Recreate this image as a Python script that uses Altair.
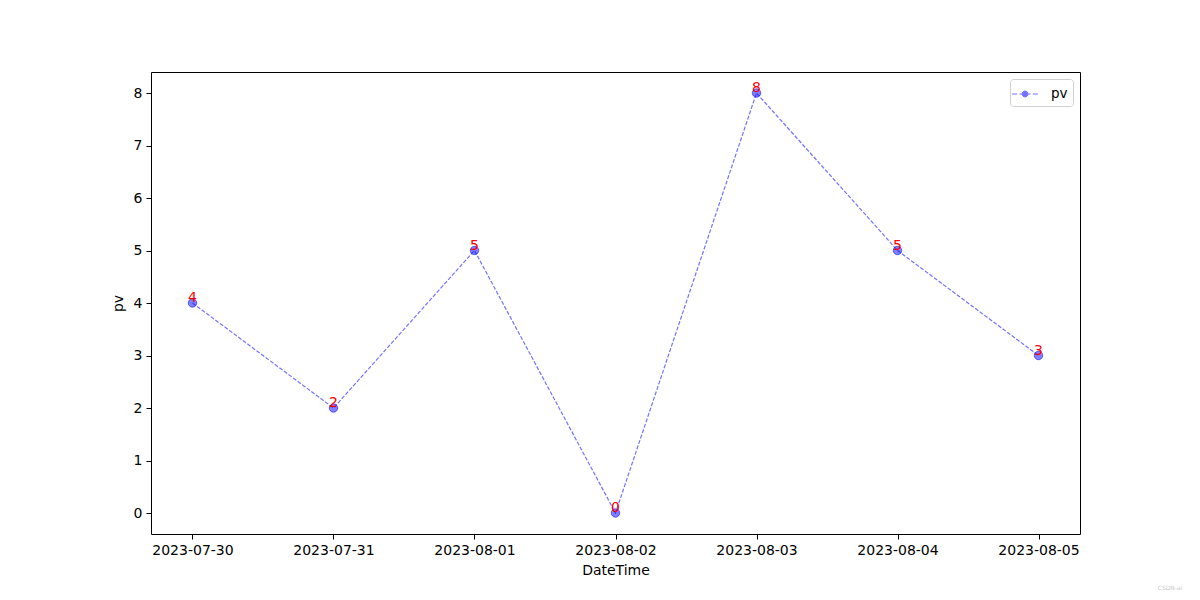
import altair as alt
import pandas as pd

dates = ["2023-07-30", "2023-07-31", "2023-08-01", "2023-08-02",
         "2023-08-03", "2023-08-04", "2023-08-05"]
pv = [4, 2, 5, 0, 8, 5, 3]
series = ["pv"] * len(dates)

df = pd.DataFrame({"DateTime": dates, "pv": pv, "series": series})

FONT = "DejaVu Sans"
W, H = 929, 462

x = alt.X("DateTime:O", sort=dates,
          scale=alt.Scale(type="point", padding=0.2943),
          axis=alt.Axis(title="DateTime", labelAngle=0))
y = alt.Y("pv:Q", scale=alt.Scale(domain=[-0.4, 8.4], nice=False, zero=False),
          axis=alt.Axis(title="pv", values=list(range(0, 9))))

legend_symbol = ("M-1.4,0H-0.85M-0.6,0H-0.3M0.3,0H0.6M0.85,0H1.4"
                 "M0,-0.32A0.32,0.32 0 1,1 0,0.32A0.32,0.32 0 1,1 0,-0.32Z")

color = alt.Color("series:N", scale=alt.Scale(range=["blue"]),
                  legend=alt.Legend(title=None, orient="top-right",
                                    offset=7, symbolType=legend_symbol,
                                    symbolSize=340, symbolStrokeWidth=1,
                                    symbolFillColor="blue", symbolOpacity=0.55,
                                    strokeColor="#d0d0d0", fillColor="white",
                                    cornerRadius=3, padding=5,
                                    labelFont=FONT, labelFontSize=13.5,
                                    labelColor="black", labelOffset=16))

base = alt.Chart(df).encode(x=x, y=y)

line = base.mark_line(strokeDash=[4, 1.7], strokeWidth=1.2, opacity=0.55,
                      color="blue").encode(color=color)
points = base.mark_circle(size=72, fillOpacity=0.5, strokeOpacity=0.5,
                          stroke="blue", strokeWidth=1).encode(color=color)
labels = base.mark_text(color="red", font=FONT, fontSize=14,
                        baseline="alphabetic", align="center", dy=-1).encode(
    text="pv:Q")

watermark = alt.Chart(pd.DataFrame({"t": ["CSDN-ai"]})).mark_text(
    font=FONT, fontSize=6, color="#c8c8c8", align="center", baseline="middle"
).encode(x=alt.value(1170 - 151), y=alt.value(588 - 72), text="t:N")

chart = alt.layer(line, points, labels, watermark).properties(
    width=W, height=H,
    background="white",
    autosize=alt.AutoSizeParams(type="none"),
    padding={"left": 143, "top": 64, "right": 112, "bottom": 58},
).configure_view(
    stroke="black", strokeWidth=1, fill="white"
).configure_axis(
    grid=False, domain=False, tickColor="black", tickSize=5, tickWidth=1,
    labelFont=FONT, labelFontSize=14, labelColor="black", labelPadding=4,
    titleFont=FONT, titleFontSize=14, titleColor="black", titleFontWeight="normal",
).configure_axisX(titlePadding=6).configure_axisY(titlePadding=8)

chart.save("out.html", embed_options={"renderer": "svg", "actions": False})
